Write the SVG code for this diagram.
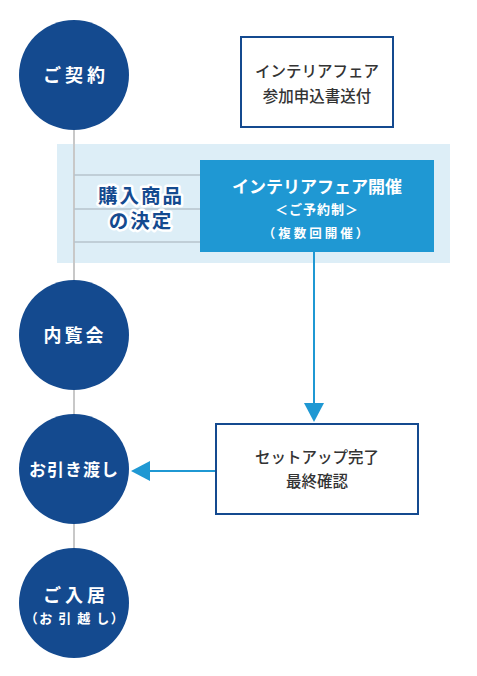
<svg xmlns="http://www.w3.org/2000/svg" width="477" height="676" viewBox="0 0 477 676">
<style>
.c{fill:#144a8f}
.ct{fill:#fff;font-family:"Noto Sans CJK JP","Noto Sans",sans-serif;font-weight:700;text-anchor:middle}
.bt{fill:#333;font-family:"Noto Sans CJK JP","Noto Sans",sans-serif;font-weight:500;font-size:15.5px;text-anchor:middle}
.wb{fill:#fff;stroke:#144a8f;stroke-width:2}
.con{stroke:#1f98d3;stroke-width:2;fill:none}
.ah{fill:#1f98d3}
.gl{stroke:#b6c3cc;stroke-width:1.5}
.kt{font-family:"Noto Sans CJK JP",sans-serif;font-weight:700;font-size:19.5px;fill:#144a8f;stroke:#fff;stroke-width:5px;stroke-linejoin:round;paint-order:stroke;text-anchor:middle;letter-spacing:2px}
</style>
<rect x="57" y="144" width="393" height="119" fill="#ddeef7"/>
<g id="connectors">
<line x1="74" y1="130" x2="74" y2="548" stroke="#c8c8c8" stroke-width="2"/>
<line class="gl" x1="74" y1="175" x2="200" y2="175"/>
<line class="gl" x1="74" y1="209" x2="200" y2="209"/>
<line class="gl" x1="74" y1="242" x2="200" y2="242"/>
<line class="con" x1="314" y1="252" x2="314" y2="404"/>
<polygon class="ah" points="304,403 324,403 314,422"/>
<line class="con" x1="216" y1="471" x2="149" y2="471"/>
<polygon class="ah" points="150,461 150,481 131,471"/>
</g>
<g id="n-keiyaku">
<circle class="c" cx="74" cy="75" r="55"/>
<text class="ct" x="74" y="82" font-size="18">ご 契 約</text>
</g>
<g id="n-form">
<rect class="wb" x="241" y="37" width="152" height="90"/>
<text class="bt" x="317" y="77">インテリアフェア</text>
<text class="bt" x="317" y="102">参加申込書送付</text>
</g>
<g id="n-kettei">
<text class="kt" x="141" y="203">購入商品</text>
<text class="kt" x="141" y="228">の決定</text>
</g>
<g id="n-fair">
<rect x="200" y="160" width="234" height="92" fill="#1f98d3"/>
<text class="ct" x="317" y="193" font-size="17">インテリアフェア開催</text>
<text class="ct" x="317" y="214" font-size="13" letter-spacing="1">＜ご予約制＞</text>
<text class="ct" x="317" y="238" font-size="12.5" letter-spacing="3">（複数回開催）</text>
</g>
<g id="n-nairan">
<circle class="c" cx="74" cy="335" r="55"/>
<text class="ct" x="75" y="342" font-size="18" letter-spacing="3">内覧会</text>
</g>
<g id="n-setup">
<rect class="wb" x="216" y="424" width="202" height="90"/>
<text class="bt" x="317" y="463">セットアップ完了</text>
<text class="bt" x="317" y="487">最終確認</text>
</g>
<g id="n-hikiwatashi">
<circle class="c" cx="74" cy="469" r="55"/>
<text class="ct" x="74" y="476" font-size="17" letter-spacing="1">お引き渡し</text>
</g>
<g id="n-nyukyo">
<circle class="c" cx="74" cy="603" r="55"/>
<text class="ct" x="74" y="602" font-size="18">ご 入 居</text>
<text class="ct" x="75" y="623" font-size="13" letter-spacing="1.5">（お 引 越 し）</text>
</g>
</svg>
